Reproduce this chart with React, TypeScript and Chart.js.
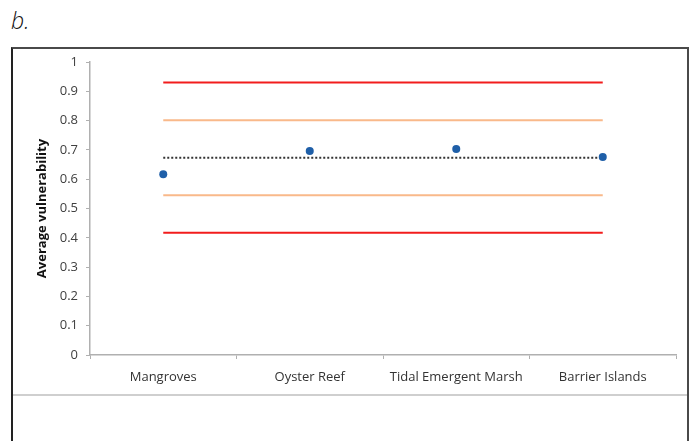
import React, { useEffect, useRef } from "react";
import { Chart, registerables } from "chart.js";

Chart.register(...registerables);

const categories = ["Mangroves", "Oyster Reef", "Tidal Emergent Marsh", "Barrier Islands"];
const vulnerability = [0.617, 0.696, 0.703, 0.676];
const meanValue = [0.673, 0.673, 0.673, 0.673];
const upper1 = [0.801, 0.801, 0.801, 0.801];
const lower1 = [0.545, 0.545, 0.545, 0.545];
const upper2 = [0.93, 0.93, 0.93, 0.93];
const lower2 = [0.417, 0.417, 0.417, 0.417];

const FONT = "'Open Sans', 'Noto Sans', sans-serif";

export default function App() {
  const ref = useRef<HTMLCanvasElement | null>(null);

  useEffect(() => {
    if (!ref.current) return;
    const lineDs = (label: string, data: number[], color: string, dash: number[] = []) => ({
      type: "line" as const,
      label,
      data,
      borderColor: color,
      backgroundColor: color,
      borderWidth: 2,
      borderDash: dash,
      pointRadius: 0,
      fill: false,
      tension: 0,
    });
    const chart = new Chart(ref.current, {
      type: "line",
      data: {
        labels: categories,
        datasets: [
          {
            label: "Average vulnerability",
            data: vulnerability,
            showLine: false,
            pointRadius: 4,
            pointHoverRadius: 4,
            pointBackgroundColor: "#1f5fa8",
            pointBorderColor: "#1f5fa8",
            pointBorderWidth: 0,
            borderColor: "#1f5fa8",
            order: 0,
          } as any,
          { ...lineDs("Mean", meanValue, "#333333", [2, 2]), order: 1 },
          { ...lineDs("+1 SD", upper1, "#f9b98a"), order: 2 },
          { ...lineDs("-1 SD", lower1, "#f9b98a"), order: 2 },
          { ...lineDs("+2 SD", upper2, "#f21c1c"), order: 2 },
          { ...lineDs("-2 SD", lower2, "#f21c1c"), order: 2 },
        ],
      },
      options: {
        animation: false,
        responsive: false,
        maintainAspectRatio: false,
        layout: { padding: { left: 14, right: 13, top: 62, bottom: 46 } },
        plugins: {
          legend: { display: false },
          tooltip: { enabled: false },
        },
        scales: {
          x: {
            type: "category",
            offset: true,
            grid: {
              offset: true,
              drawOnChartArea: false,
              drawTicks: true,
              tickLength: 4,
              color: "#b0b0b0",
            },
            border: { display: true, color: "#b0b0b0", width: 1.5 },
            ticks: {
              color: "#333333",
              padding: 10,
              maxRotation: 0,
              autoSkip: false,
              font: { family: FONT, size: 13 },
            },
            afterFit: (s: any) => {
              s.height = 40;
            },
          },
          y: {
            min: 0,
            max: 1,
            ticks: {
              stepSize: 0.1,
              color: "#404040",
              padding: 8,
              font: { family: FONT, size: 13 },
              callback: (v: any) => String(Math.round(Number(v) * 10) / 10),
            },
            grid: {
              drawOnChartArea: false,
              drawTicks: true,
              tickLength: 4,
              color: "#b0b0b0",
            },
            border: { display: true, color: "#b0b0b0", width: 1.5 },
            title: {
              display: true,
              text: "Average vulnerability",
              color: "#111111",
              font: { family: FONT, size: 13, weight: "bold" },
              padding: { top: 20, bottom: 0 },
            },
            afterFit: (s: any) => {
              s.width = 76;
            },
          },
        },
      },
    });
    return () => chart.destroy();
  }, []);

  return (
    <div
      style={{
        position: "fixed",
        left: 0,
        top: 0,
        width: 689,
        height: 441,
        background: "#ffffff",
        overflow: "hidden",
      }}
    >
      <div
        style={{
          position: "absolute",
          left: 11,
          top: 4,
          fontFamily: FONT,
          fontStyle: "italic",
          fontWeight: 300,
          fontSize: 23,
          color: "#111111",
        }}
      >
        b.
      </div>
      <div
        style={{
          position: "absolute",
          left: 11,
          top: 47,
          width: 674,
          height: 420,
          borderTop: "2px solid #4a4a4a",
          borderRight: "2px solid #4a4a4a",
          borderLeft: "2px solid #222222",
        }}
      />
      <div
        style={{
          position: "absolute",
          left: 13,
          top: 394,
          width: 674,
          height: 0,
          borderTop: "2px solid #cfcfcf",
        }}
      />
      <canvas
        ref={ref}
        width={689}
        height={441}
        style={{ position: "absolute", left: 0, top: 0, width: 689, height: 441 }}
      />
    </div>
  );
}
